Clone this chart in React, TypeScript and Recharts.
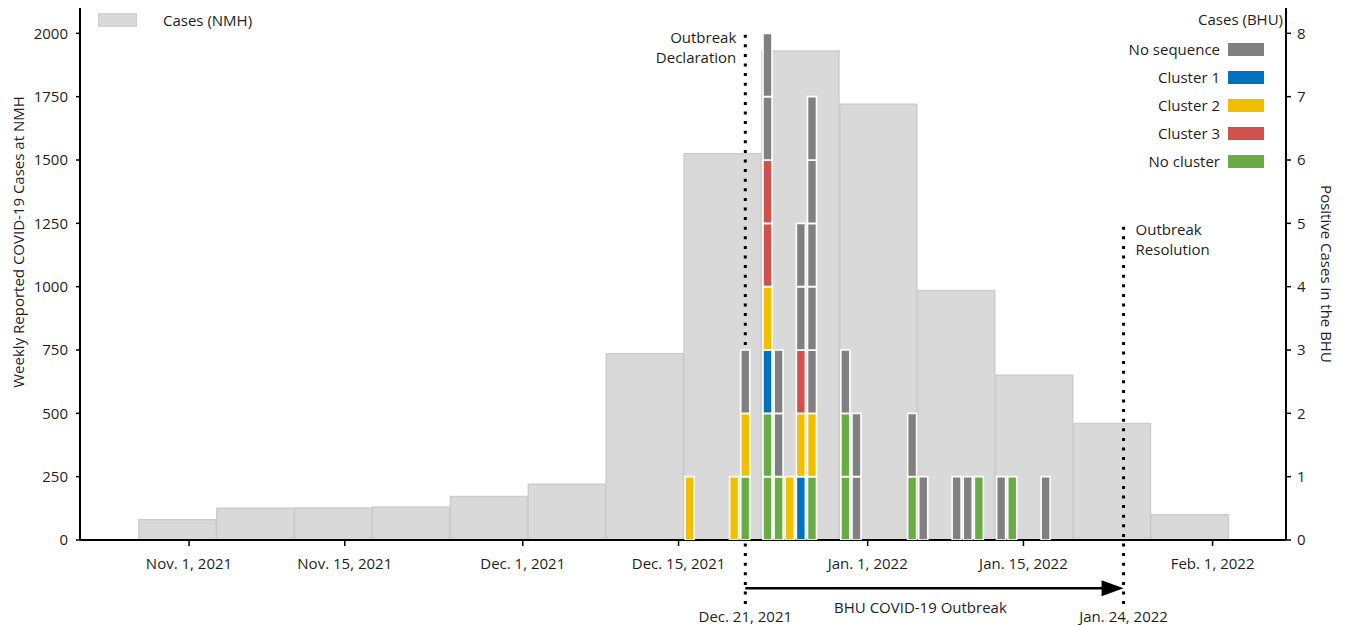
import React from 'react';
import { ComposedChart, Bar, Cell, XAxis, YAxis, ReferenceLine, Label } from 'recharts';

// day numbers are counted from Nov. 1, 2021
const EPOCH = Date.UTC(2021, 10, 1);
const toDay = (s: string) => {
  const [y, m, d] = s.split('-').map(Number);
  return (Date.UTC(y, m - 1, d) - EPOCH) / 86400000;
};

// weekly NMH cases, keyed by the middle day of each week
const nmhWeeks = [
  '2021-10-31', '2021-11-07', '2021-11-14', '2021-11-21', '2021-11-28', '2021-12-05', '2021-12-12',
  '2021-12-19', '2021-12-26', '2022-01-02', '2022-01-09', '2022-01-16', '2022-01-23', '2022-01-30',
];
const nmhCases = [80, 125, 126, 130, 172, 220, 735, 1525, 1930, 1720, 985, 650, 460, 100];

// BHU positive cases per day, one entry per case from the bottom of the stack up
const categories = ['No sequence', 'Cluster 1', 'Cluster 2', 'Cluster 3', 'No cluster'];
const categoryColors = ['#808080', '#0070c0', '#f0bf00', '#d0514b', '#6aab46'];
const bhuDates = [
  '2021-12-16', '2021-12-20', '2021-12-21', '2021-12-23', '2021-12-24', '2021-12-25', '2021-12-26',
  '2021-12-27', '2021-12-30', '2021-12-31', '2022-01-05', '2022-01-06', '2022-01-09', '2022-01-10',
  '2022-01-11', '2022-01-13', '2022-01-14', '2022-01-17',
];
const bhuStacks = [
  [2], [2], [4, 2, 0], [4, 4, 1, 2, 3, 3, 0, 0], [4, 0, 0], [2], [1, 2, 3, 0, 0],
  [4, 2, 0, 0, 0, 0, 0], [4, 4, 0], [0, 0], [4, 0], [0], [0], [0],
  [4], [0], [4], [0],
];

const xTickDates = ['2021-11-01', '2021-11-15', '2021-12-01', '2021-12-15', '2022-01-01', '2022-01-15', '2022-02-01'];
const xTickLabels = ['Nov. 1, 2021', 'Nov. 15, 2021', 'Dec. 1, 2021', 'Dec. 15, 2021', 'Jan. 1, 2022', 'Jan. 15, 2022', 'Feb. 1, 2022'];
const leftTicks = [0, 250, 500, 750, 1000, 1250, 1500, 1750, 2000];
const rightTicks = [0, 1, 2, 3, 4, 5, 6, 7, 8];

const outbreakStart = '2021-12-21';
const outbreakEnd = '2022-01-24';

// layout
const W = 1331;
const H = 617;
const X_DOMAIN = [-9.8, 98.6];
const LEFT_MAX = 2100;
const RIGHT_MAX = 8.4;
const PLOT_LEFT = 72;
const PLOT_RIGHT = 53;
const PLOT_BOTTOM = 85;
const pxPerDay = (W - PLOT_LEFT - PLOT_RIGHT) / (X_DOMAIN[1] - X_DOMAIN[0]);

const FONT = '"Open Sans", "Noto Sans", sans-serif';
const INK = '#1e1e1e';
const FS = 15;

const weeklyData = nmhWeeks.map((w, i) => ({ x: toDay(w), nmh: nmhCases[i] }));
const maxStack = Math.max(...bhuStacks.map((s) => s.length));
const stackKeys = Array.from({ length: maxStack }, (_, i) => `u${i}`);
const dailyData = bhuDates.map((d, i) => {
  const row: any = { x: toDay(d) };
  bhuStacks[i].forEach((c, j) => {
    row[`u${j}`] = 1;
    row[`c${j}`] = c;
  });
  return row;
});

const xTicks = xTickDates.map(toDay);
const fmtX = (v: number) => {
  const i = xTicks.indexOf(v);
  return i >= 0 ? xTickLabels[i] : '';
};

// annotation extents, in left-axis units
const DOT_BOTTOM = -253;
const DECL_TOP = 2013;
const RESOL_TOP = 1255;
const ARROW_Y = -190;

const dotted = { stroke: '#000', strokeWidth: 3, strokeDasharray: '3 6.6' };
const txt = { fontSize: FS, fill: INK, fontFamily: FONT };

const DeclLabel = (props: any) => {
  const { x, y, height } = props.viewBox;
  return (
    <g>
      <text x={x - 9} y={y + 7} textAnchor="end" dominantBaseline="central" {...txt}>Outbreak</text>
      <text x={x - 9} y={y + 27} textAnchor="end" dominantBaseline="central" {...txt}>Declaration</text>
      <text x={x} y={y + height + 12} textAnchor="middle" dominantBaseline="central" {...txt}>Dec. 21, 2021</text>
    </g>
  );
};

const ResolLabel = (props: any) => {
  const { x, y, height } = props.viewBox;
  return (
    <g>
      <text x={x + 12} y={y + 7} textAnchor="start" dominantBaseline="central" {...txt}>Outbreak</text>
      <text x={x + 12} y={y + 27} textAnchor="start" dominantBaseline="central" {...txt}>Resolution</text>
      <text x={x} y={y + height + 12} textAnchor="middle" dominantBaseline="central" {...txt}>Jan. 24, 2022</text>
    </g>
  );
};

const ArrowLabel = (props: any) => {
  const { x, y, width } = props.viewBox;
  return (
    <text x={x + width / 2 - 14} y={y + 19} textAnchor="middle" dominantBaseline="central" {...txt}>
      BHU COVID-19 Outbreak
    </text>
  );
};

const ArrowShape = (props: any) => {
  const { x1, y1, x2 } = props;
  const head = 22;
  return (
    <g>
      <line x1={x1} y1={y1} x2={x2 - head + 2} y2={y1} stroke="#000" strokeWidth={2.5} />
      <polygon points={`${x2},${y1} ${x2 - head},${y1 - 8} ${x2 - head},${y1 + 8}`} fill="#000" />
    </g>
  );
};

const LeftTitle = (props: any) => {
  const { x, y, height } = props.viewBox;
  const cx = x - 22;
  const cy = y + height / 2 - 32;
  return (
    <text x={cx} y={cy} transform={`rotate(-90, ${cx}, ${cy})`} textAnchor="middle" dominantBaseline="central" {...txt}>
      Weekly Reported COVID-19 Cases at NMH
    </text>
  );
};

const RightTitle = (props: any) => {
  const { x, y, height } = props.viewBox;
  const cx = x + 41;
  const cy = y + height / 2;
  return (
    <text x={cx} y={cy} transform={`rotate(90, ${cx}, ${cy})`} textAnchor="middle" dominantBaseline="central" {...txt}>
      Positive Cases in the BHU
    </text>
  );
};

const tickStyle = { fontSize: FS, fill: INK, fontFamily: FONT };
const axisLine = { stroke: '#000', strokeWidth: 2 };
const tickLine = { stroke: '#000', strokeWidth: 1.5 };

export default function App() {
  return (
    <div style={{ position: 'relative', width: W, height: H, fontFamily: FONT, color: INK }}>
      {/* weekly NMH bars, axes and outbreak annotations */}
      <ComposedChart width={W} height={H} data={weeklyData} margin={{ top: 0, right: 23, bottom: 45, left: 32 }}>
        <XAxis
          dataKey="x"
          type="number"
          domain={X_DOMAIN}
          allowDataOverflow
          ticks={xTicks}
          tickFormatter={fmtX}
          interval={0}
          height={40}
          tickSize={6}
          tickMargin={12}
          tick={tickStyle}
          axisLine={axisLine}
          tickLine={tickLine}
        />
        <YAxis
          yAxisId="left"
          type="number"
          domain={[0, LEFT_MAX]}
          allowDataOverflow
          ticks={leftTicks}
          interval={0}
          width={40}
          tickSize={4}
          tickMargin={8}
          tick={tickStyle}
          axisLine={axisLine}
          tickLine={tickLine}
        >
          <Label content={LeftTitle} />
        </YAxis>
        <YAxis
          yAxisId="right"
          orientation="right"
          type="number"
          domain={[0, RIGHT_MAX]}
          allowDataOverflow
          ticks={rightTicks}
          interval={0}
          width={30}
          tickSize={5}
          tickMargin={6}
          tick={tickStyle}
          axisLine={axisLine}
          tickLine={tickLine}
        >
          <Label content={RightTitle} />
        </YAxis>
        <Bar
          yAxisId="left"
          dataKey="nmh"
          barSize={Math.floor(7 * pxPerDay)}
          fill="#d9d9d9"
          stroke="#cdcdcd"
          strokeWidth={1.5}
          isAnimationActive={false}
        />
        <ReferenceLine
          yAxisId="left"
          ifOverflow="visible"
          segment={[{ x: toDay(outbreakStart), y: DOT_BOTTOM }, { x: toDay(outbreakStart), y: DECL_TOP }]}
          {...dotted}
          label={DeclLabel}
        />
        <ReferenceLine
          yAxisId="left"
          ifOverflow="visible"
          segment={[{ x: toDay(outbreakEnd), y: DOT_BOTTOM }, { x: toDay(outbreakEnd), y: RESOL_TOP }]}
          {...dotted}
          label={ResolLabel}
        />
        <ReferenceLine
          yAxisId="left"
          ifOverflow="visible"
          segment={[{ x: toDay(outbreakStart), y: ARROW_Y }, { x: toDay(outbreakEnd), y: ARROW_Y }]}
          shape={ArrowShape}
          label={ArrowLabel}
        />
      </ComposedChart>

      {/* daily BHU cases, stacked one block per case */}
      <div style={{ position: 'absolute', top: 0, left: 0, pointerEvents: 'none' }}>
        <ComposedChart width={W} height={H} data={dailyData} margin={{ top: 0, right: PLOT_RIGHT, bottom: PLOT_BOTTOM, left: PLOT_LEFT }}>
          <XAxis dataKey="x" type="number" domain={X_DOMAIN} allowDataOverflow hide />
          <YAxis type="number" domain={[0, RIGHT_MAX]} allowDataOverflow hide />
          {stackKeys.map((k, j) => (
            <Bar key={k} dataKey={k} stackId="bhu" barSize={9} stroke="#fff" strokeWidth={1.6} isAnimationActive={false}>
              {dailyData.map((row: any, i: number) => (
                <Cell key={i} fill={row[`c${j}`] !== undefined ? categoryColors[row[`c${j}`]] : 'none'} />
              ))}
            </Bar>
          ))}
        </ComposedChart>
      </div>

      {/* NMH legend */}
      <div style={{ position: 'absolute', left: 90, top: 5, width: 39, height: 14, background: '#d9d9d9', border: '1px solid #d0d0d0', boxSizing: 'border-box' }} />
      <div style={{ position: 'absolute', left: 155, top: 2, fontSize: FS, lineHeight: '20px' }}>Cases (NMH)</div>

      {/* BHU legend */}
      <div style={{ position: 'absolute', right: 56, top: 1, fontSize: FS, lineHeight: '20px' }}>Cases (BHU)</div>
      <div style={{ position: 'absolute', right: 75, top: 27, display: 'flex', flexDirection: 'column' }}>
        {categories.map((c, i) => (
          <div key={c} style={{ display: 'flex', justifyContent: 'flex-end', alignItems: 'center', height: 28, gap: 8 }}>
            <span style={{ fontSize: FS }}>{c}</span>
            <span style={{ display: 'inline-block', width: 36, height: 13, background: categoryColors[i] }} />
          </div>
        ))}
      </div>
    </div>
  );
}
